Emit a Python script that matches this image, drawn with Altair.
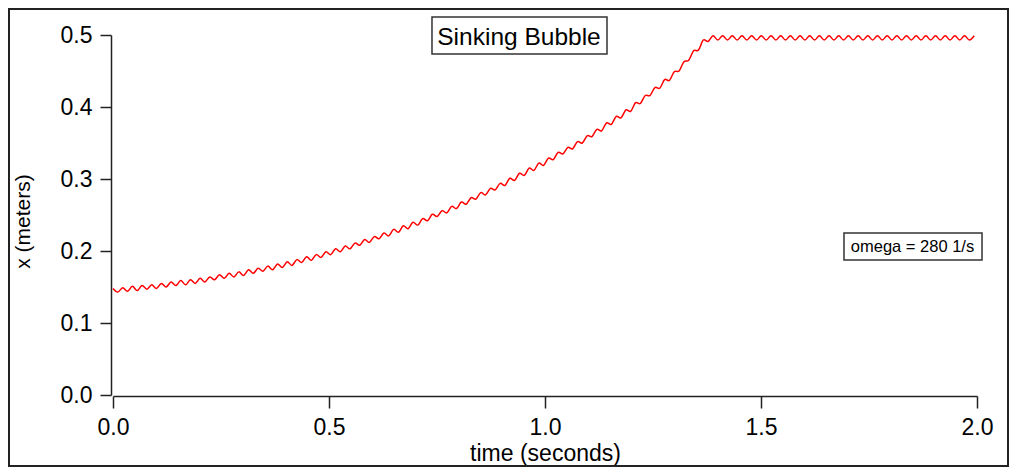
import altair as alt
import pandas as pd

# ---- data ----
time_s = [
    0, 0.0112, 0.0224, 0.0336, 0.0448, 0.056, 0.0672, 0.0784, 0.0896, 0.1008,
    0.112, 0.1232, 0.1344, 0.1456, 0.1568, 0.168, 0.1792, 0.1904, 0.2016, 0.2128,
    0.224, 0.2352, 0.2464, 0.2576, 0.2688, 0.28, 0.2912, 0.3024, 0.3136, 0.3248,
    0.336, 0.3472, 0.3584, 0.3696, 0.3808, 0.392, 0.4032, 0.4144, 0.4256, 0.4368,
    0.448, 0.4592, 0.4704, 0.4816, 0.4928, 0.504, 0.5152, 0.5264, 0.5376, 0.5488,
    0.56, 0.5712, 0.5824, 0.5936, 0.6048, 0.616, 0.6272, 0.6384, 0.6496, 0.6608,
    0.672, 0.6832, 0.6944, 0.7056, 0.7168, 0.728, 0.7392, 0.7504, 0.7616, 0.7728,
    0.784, 0.7952, 0.8064, 0.8176, 0.8288, 0.84, 0.8512, 0.8624, 0.8736, 0.8848,
    0.896, 0.9072, 0.9184, 0.9296, 0.9408, 0.952, 0.9632, 0.9744, 0.9856, 0.9968,
    1.008, 1.0192, 1.0304, 1.0416, 1.0528, 1.064, 1.0752, 1.0864, 1.0976, 1.1088,
    1.12, 1.1312, 1.1424, 1.1536, 1.1648, 1.176, 1.1872, 1.1984, 1.2096, 1.2208,
    1.232, 1.2432, 1.2544, 1.2656, 1.2768, 1.288, 1.2992, 1.3104, 1.3216, 1.3328,
    1.344, 1.3552, 1.3664, 1.3776, 1.3888, 1.4, 1.4112, 1.4224, 1.4336, 1.4448,
    1.456, 1.4672, 1.4784, 1.4896, 1.5008, 1.512, 1.5232, 1.5344, 1.5456, 1.5568,
    1.568, 1.5792, 1.5904, 1.6016, 1.6128, 1.624, 1.6352, 1.6464, 1.6576, 1.6688,
    1.68, 1.6912, 1.7024, 1.7136, 1.7248, 1.736, 1.7472, 1.7584, 1.7696, 1.7808,
    1.792, 1.8032, 1.8144, 1.8256, 1.8368, 1.848, 1.8592, 1.8704, 1.8816, 1.8928,
    1.904, 1.9152, 1.9264, 1.9376, 1.9488, 1.96, 1.9712, 1.9824, 1.9936,
]

x_m = [
    0.148, 0.143, 0.149, 0.144, 0.151, 0.145, 0.152, 0.147, 0.153, 0.148,
    0.155, 0.150, 0.157, 0.152, 0.159, 0.153, 0.160, 0.155, 0.162, 0.157,
    0.164, 0.160, 0.167, 0.162, 0.169, 0.164, 0.171, 0.166, 0.174, 0.169,
    0.176, 0.172, 0.179, 0.174, 0.182, 0.177, 0.185, 0.180, 0.188, 0.184,
    0.192, 0.187, 0.195, 0.191, 0.199, 0.195, 0.203, 0.199, 0.207, 0.203,
    0.211, 0.208, 0.216, 0.212, 0.220, 0.217, 0.225, 0.221, 0.230, 0.226,
    0.235, 0.231, 0.240, 0.236, 0.245, 0.242, 0.251, 0.248, 0.256, 0.253,
    0.262, 0.259, 0.268, 0.265, 0.274, 0.272, 0.281, 0.278, 0.287, 0.285,
    0.294, 0.291, 0.301, 0.298, 0.308, 0.305, 0.315, 0.312, 0.322, 0.319,
    0.329, 0.327, 0.337, 0.335, 0.344, 0.342, 0.352, 0.350, 0.360, 0.359,
    0.369, 0.367, 0.378, 0.376, 0.387, 0.385, 0.396, 0.394, 0.406, 0.405,
    0.416, 0.416, 0.427, 0.426, 0.438, 0.437, 0.449, 0.450, 0.463, 0.465,
    0.478, 0.479, 0.493, 0.491, 0.499, 0.493, 0.499, 0.493, 0.499, 0.493,
    0.499, 0.493, 0.499, 0.493, 0.499, 0.493, 0.499, 0.493, 0.499, 0.493,
    0.499, 0.493, 0.499, 0.493, 0.499, 0.493, 0.499, 0.493, 0.499, 0.493,
    0.499, 0.493, 0.499, 0.493, 0.499, 0.493, 0.499, 0.493, 0.499, 0.493,
    0.499, 0.493, 0.499, 0.493, 0.499, 0.493, 0.499, 0.493, 0.499, 0.493,
    0.499, 0.493, 0.499, 0.493, 0.499, 0.493, 0.499, 0.493, 0.499,
]

x_tick_values = [0.0, 0.5, 1.0, 1.5, 2.0]
y_tick_values = [0.0, 0.1, 0.2, 0.3, 0.4, 0.5]
x_domain = [0.0, 2.0]
y_domain = [0.0, 0.5]
x_title = "time (seconds)"
y_title = "x (meters)"

title_text = ["Sinking Bubble"]
title_time = [0.9398]
title_x = [0.4964]
note_text = ["omega = 280 1/s"]
note_time = [1.8507]
note_x = [0.2049]
box_time_start = [0.7384, 1.6921]
box_time_end = [1.1435, 2.0116]
box_x_low = [0.4736, 0.1875]
box_x_high = [0.525, 0.225]

FONT = "Liberation Sans"
INK = "#222222"

curve = pd.DataFrame({"time": time_s, "x": x_m})
boxes = pd.DataFrame({"time": box_time_start, "time_end": box_time_end,
                      "x": box_x_low, "x_end": box_x_high})
titles = pd.DataFrame({"time": title_time, "x": title_x, "label": title_text})
notes = pd.DataFrame({"time": note_time, "x": note_x, "label": note_text})
frame_df = pd.DataFrame({"k": [0]})

x_scale = alt.Scale(domain=x_domain, nice=False, zero=False)
y_scale = alt.Scale(domain=y_domain, nice=False, zero=False)

x_axis = alt.Axis(values=x_tick_values, format=".1f", tickSize=12, labelPadding=8,
                  labelFontSize=23, titleFontSize=23, offset=1, labelFlush=False,
                  domainColor=INK, tickColor=INK, domainWidth=1.5, tickWidth=1.5,
                  titleX=432, titleY=46, titleBaseline="top", titleAlign="center",
                  titleFontWeight="normal", labelColor="black", titleColor="black",
                  labelFont=FONT, titleFont=FONT, grid=False)
y_axis = alt.Axis(values=y_tick_values, format=".1f", tickSize=11, labelPadding=8,
                  labelFontSize=23, titleFontSize=21, offset=2,
                  domainColor=INK, tickColor=INK, domainWidth=1.5, tickWidth=1.5,
                  titleX=-82, titleY=186, titleAngle=270, titleBaseline="alphabetic",
                  titleAlign="center", titleFontWeight="normal",
                  labelColor="black", titleColor="black",
                  labelFont=FONT, titleFont=FONT, grid=False)


def X(field):
    return alt.X(field, scale=x_scale, axis=x_axis, title=x_title)


def Y(field):
    return alt.Y(field, scale=y_scale, axis=y_axis, title=y_title)


frame = alt.Chart(frame_df).mark_rect(
    fillOpacity=0, stroke=INK, strokeWidth=2, clip=False
).encode(
    x=alt.value(-104), x2=alt.value(895), y=alt.value(-26), y2=alt.value(431)
)

line = alt.Chart(curve).mark_line(
    color="#ff0000", strokeWidth=1.5, interpolate="cardinal"
).encode(x=X("time:Q"), y=Y("x:Q"))

box_layer = alt.Chart(boxes).mark_rect(
    fill="white", stroke="#333333", strokeWidth=1.5, clip=False
).encode(x=X("time:Q"), x2="time_end:Q", y=Y("x:Q"), y2="x_end:Q")

title_layer = alt.Chart(titles).mark_text(
    font=FONT, fontSize=24.5, color="black", align="center", baseline="middle"
).encode(x=X("time:Q"), y=Y("x:Q"), text="label:N")

note_layer = alt.Chart(notes).mark_text(
    font=FONT, fontSize=16.5, color="black", align="center", baseline="middle"
).encode(x=X("time:Q"), y=Y("x:Q"), text="label:N")

chart = alt.layer(frame, line, box_layer, title_layer, note_layer).properties(
    width=864, height=360,
    autosize=alt.AutoSizeParams(type="none"),
    padding={"left": 105, "top": 27, "right": 32, "bottom": 72},
).configure_view(strokeWidth=0)

chart.save("out.html", embed_options={"renderer": "svg", "actions": False})
